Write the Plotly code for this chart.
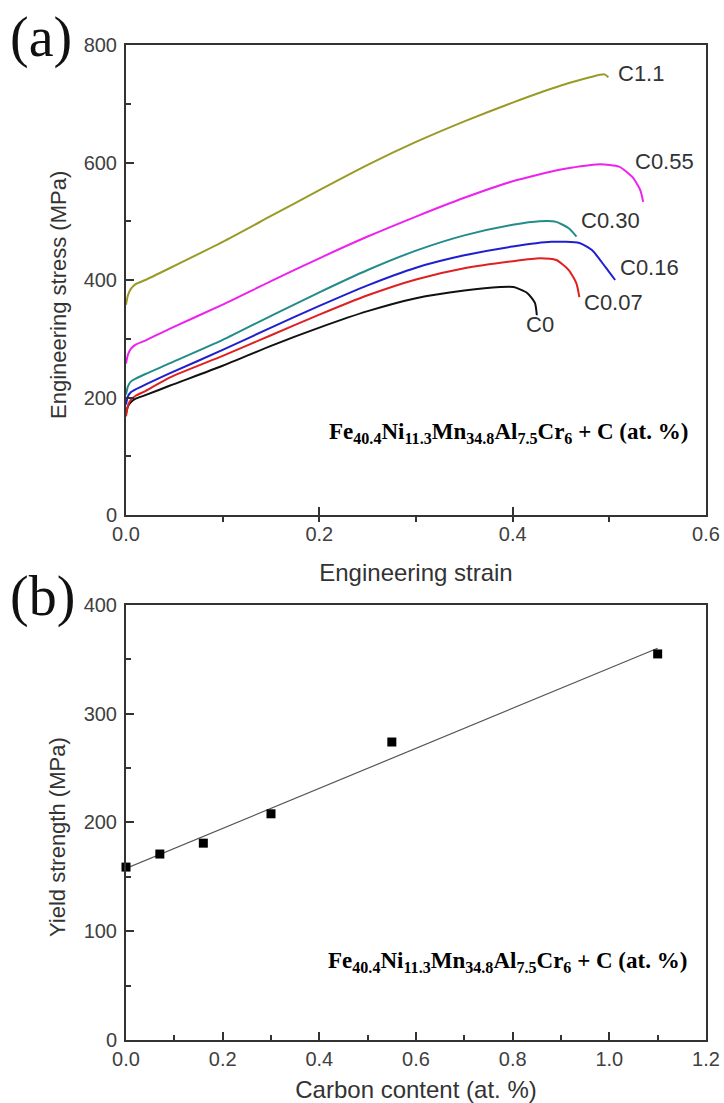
import numpy as np
import plotly.graph_objects as go
from plotly.subplots import make_subplots

# ---- (a) engineering stress-strain curves ----
strain_C0 = [0, 0.002, 0.005, 0.01, 0.02, 0.045, 0.1, 0.15, 0.2, 0.25, 0.3, 0.35, 0.387, 0.401, 0.415, 0.423, 0.425]
stress_C0 = [172, 185, 192, 198, 204, 220, 254, 288, 319, 347, 369, 382, 388, 388, 378, 361, 340]

strain_C007 = [0, 0.002, 0.005, 0.01, 0.02, 0.045, 0.1, 0.15, 0.2, 0.25, 0.3, 0.35, 0.4, 0.428, 0.445, 0.458, 0.466, 0.469]
stress_C007 = [168, 186, 196, 203, 211, 234, 271, 306, 341, 374, 401, 420, 432, 437, 434, 417, 394, 371]

strain_C016 = [0, 0.002, 0.005, 0.01, 0.02, 0.045, 0.1, 0.15, 0.2, 0.25, 0.3, 0.35, 0.4, 0.44, 0.469, 0.482, 0.496, 0.506]
stress_C016 = [188, 202, 209, 214, 222, 241, 281, 319, 356, 391, 421, 442, 457, 465, 463, 451, 422, 400]

strain_C030 = [0, 0.002, 0.005, 0.01, 0.02, 0.045, 0.1, 0.15, 0.2, 0.25, 0.3, 0.35, 0.4, 0.428, 0.445, 0.458, 0.466]
stress_C030 = [205, 219, 227, 232, 240, 258, 298, 339, 379, 417, 450, 476, 494, 500, 499, 488, 474]

strain_C055 = [0, 0.002, 0.005, 0.01, 0.02, 0.045, 0.1, 0.15, 0.2, 0.25, 0.3, 0.35, 0.4, 0.45, 0.49, 0.51, 0.524, 0.532, 0.535]
stress_C055 = [258, 273, 283, 290, 297, 317, 358, 398, 437, 474, 508, 540, 568, 588, 597, 593, 575, 553, 533]

strain_C11 = [0, 0.002, 0.005, 0.01, 0.02, 0.045, 0.1, 0.15, 0.2, 0.25, 0.3, 0.35, 0.4, 0.45, 0.48, 0.495, 0.499]
stress_C11 = [358, 374, 385, 393, 400, 420, 465, 509, 553, 596, 635, 670, 702, 731, 745, 750, 745]

curve_names = ["C0", "C0.07", "C0.16", "C0.30", "C0.55", "C1.1"]
curve_strains = [strain_C0, strain_C007, strain_C016, strain_C030, strain_C055, strain_C11]
curve_stresses = [stress_C0, stress_C007, stress_C016, stress_C030, stress_C055, stress_C11]

# ---- (b) yield strength vs carbon content ----
carbon_content = [0, 0.07, 0.16, 0.30, 0.55, 1.1]
yield_strength = [159, 171, 181, 208, 274, 355]

curve_colors = ["#111111", "#e02020", "#1f1fd0", "#238c8a", "#ee22ee", "#9a9a26"]
# where each curve label sits (strain, stress)
label_pos = [(0.412, 325), (0.472, 361), (0.509, 422), (0.469, 502), (0.524, 601), (0.507, 752)]

formula = ("<b>Fe<sub>40.4</sub>Ni<sub>11.3</sub>Mn<sub>34.8</sub>Al<sub>7.5</sub>"
           "Cr<sub>6</sub> + C (at. %)</b>")

fig = make_subplots(rows=2, cols=1, vertical_spacing=0.0)

for name, xs, ys, col in zip(curve_names, curve_strains, curve_stresses, curve_colors):
    fig.add_trace(go.Scatter(x=xs, y=ys, mode="lines", name=name,
                             line=dict(color=col, width=2, shape="spline", smoothing=0.6)),
                  row=1, col=1)

# linear fit through the yield-strength points
slope, intercept = np.polyfit(carbon_content, yield_strength, 1)
fit_x = np.array([0.0, max(carbon_content)])
fig.add_trace(go.Scatter(x=fit_x, y=slope * fit_x + intercept, mode="lines",
                         line=dict(color="#555555", width=1.2)), row=2, col=1)
fig.add_trace(go.Scatter(x=carbon_content, y=yield_strength, mode="markers", cliponaxis=False,
                         marker=dict(symbol="square", size=9, color="#000000")),
              row=2, col=1)

sans = "Liberation Sans, Arial, sans-serif"
serif = "Liberation Serif, Times New Roman, serif"
tick_font = dict(family=sans, size=20, color="#404040")
title_font = dict(family=sans, size=24, color="#333333")
vtitle_font = dict(family=sans, size=22, color="#333333")
minor_style = dict(ticklen=5, tickcolor="#333333", tickwidth=1.5)
axis_common = dict(showline=True, linecolor="#333333", linewidth=2, mirror=True,
                   showgrid=False, zeroline=False, ticks="inside", ticklen=8,
                   tickwidth=1.5, tickcolor="#333333", tickfont=tick_font,
                   title_font=title_font, automargin=False)

fig.update_xaxes(axis_common, row=1, col=1, range=[0, 0.6], dtick=0.2, tickformat=".1f",
                 minor=dict(dtick=0.1, ticks="outside", **minor_style),
                 title_text="Engineering strain", title_standoff=20, domain=[0, 1])
fig.update_yaxes(axis_common, row=1, col=1, range=[0, 800], dtick=200, ticklabelstandoff=3,
                 minor=dict(dtick=100, ticks="inside", **minor_style),
                 domain=[0.5276, 1.0])
fig.update_xaxes(axis_common, row=2, col=1, range=[0, 1.2], dtick=0.2, tickformat=".1f",
                 minor=dict(dtick=0.1, ticks="inside", **minor_style),
                 title_text="Carbon content (at. %)", title_standoff=17, domain=[0, 1])
fig.update_yaxes(axis_common, row=2, col=1, range=[0, 400], dtick=100, ticklabelstandoff=3,
                 minor=dict(dtick=50, ticks="inside", **minor_style),
                 domain=[0, 0.4372])

# vertical axis titles
fig.add_annotation(xref="paper", yref="paper", x=(58 - 126) / 580, y=(1040 - 295) / 995,
                   text="Engineering stress (MPa)", textangle=-90, showarrow=False,
                   xanchor="center", yanchor="middle", font=vtitle_font)
fig.add_annotation(xref="paper", yref="paper", x=(58 - 126) / 580, y=(1040 - 837) / 995,
                   text="Yield strength (MPa)", textangle=-90, showarrow=False,
                   xanchor="center", yanchor="middle", font=vtitle_font)

label_font = dict(family=sans, size=22, color="#333333")
for name, (lx, ly) in zip(curve_names, label_pos):
    fig.add_annotation(x=lx, y=ly, xref="x", yref="y", text=name, showarrow=False,
                       xanchor="left", yanchor="middle", font=label_font)

formula_font = dict(family=serif, size=23, color="#000000")
fig.add_annotation(x=0.973, y=140, xref="paper", yref="y", text=formula, showarrow=False,
                   xanchor="right", yanchor="middle", font=formula_font)
fig.add_annotation(x=0.971, y=72, xref="paper", yref="y2", text=formula, showarrow=False,
                   xanchor="right", yanchor="middle", font=formula_font)

panel_font = dict(family=serif, size=56, color="#111111")
fig.add_annotation(xref="paper", yref="paper", x=(41 - 126) / 580, y=1 + (45 - 37) / 995,
                   text="(a)", showarrow=False, xanchor="center", yanchor="middle",
                   font=panel_font)
fig.add_annotation(xref="paper", yref="paper", x=(42 - 126) / 580, y=(1040 - 596) / 995,
                   text="(b)", showarrow=False, xanchor="center", yanchor="middle",
                   font=panel_font)

fig.update_layout(width=724, height=1103, showlegend=False,
                  margin=dict(l=126, r=18, t=45, b=63),
                  paper_bgcolor="#ffffff", plot_bgcolor="#ffffff")

fig.write_html("out.html")
